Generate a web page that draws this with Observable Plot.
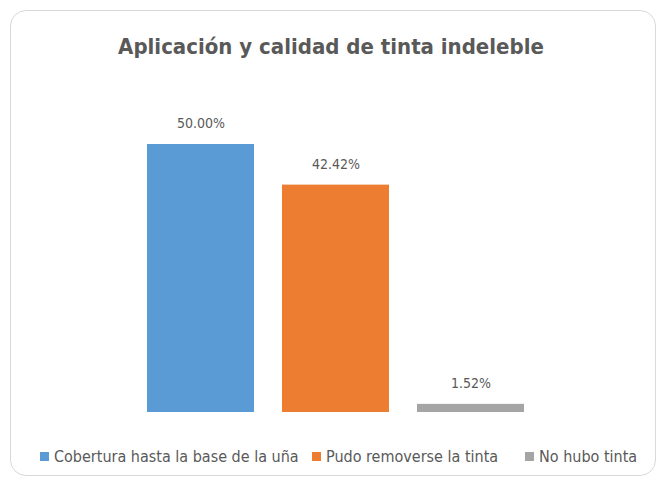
<!DOCTYPE html>
<html>
<head>
<meta charset="utf-8">
<script src="https://cdn.jsdelivr.net/npm/d3@7"></script>
<script src="https://cdn.jsdelivr.net/npm/@observablehq/plot@0.6"></script>
<style>
  body { margin: 0; background: #fff; width: 662px; height: 485px; overflow: hidden; position: relative;
         font-family: "DejaVu Sans Condensed", "Liberation Sans Narrow", sans-serif; }
  #card { position: absolute; left: 10px; top: 10px; width: 646px; height: 466px;
          border: 1px solid #d9d9d9; border-radius: 16px; box-sizing: border-box; }
  #title { position: absolute; left: 0; width: 662px; top: 31px; text-align: center;
           font-size: 22px; font-weight: bold; color: #595959; line-height: 32px; }
  #chart { position: absolute; left: 0; top: 0; }
  #legend { position: absolute; left: 0; width: 662px; top: 447px; font-size: 16px; color: #595959;
            line-height: 20px; white-space: nowrap; }
  .item { position: absolute; top: 0; }
  .sw { display: inline-block; width: 9px; height: 9px; margin-right: 5px; vertical-align: 1px; }
</style>
</head>
<body>
<div id="card"></div>
<div id="title">Aplicación y calidad de tinta indeleble</div>
<div id="chart"></div>
<div id="legend"></div>
<script>
const categories = ["Cobertura hasta la base de la uña", "Pudo removerse la tinta", "No hubo tinta"];
const values = [50.00, 42.42, 1.52];
const labels = ["50.00%", "42.42%", "1.52%"];
const colors = ["#5B9BD5", "#ED7D31", "#A5A5A5"];

const data = categories.map((c, i) => ({cat: c, value: values[i], label: labels[i]}));

const plot = Plot.plot({
  width: 662,
  height: 440,
  marginTop: 144,
  marginBottom: 28,
  marginLeft: 119,
  marginRight: 110,
  x: {domain: categories, padding: 0.207, axis: null},
  y: {domain: [0, 50], axis: null},
  color: {domain: categories, range: colors},
  style: {background: "transparent", fontFamily: "'DejaVu Sans Condensed', 'Liberation Sans Narrow', sans-serif"},
  marks: [
    Plot.barY(data, {x: "cat", y: "value", fill: "cat"}),
    Plot.text(data, {x: "cat", y: "value", text: "label", dy: -21, fontSize: 14, fill: "#595959"})
  ]
});
document.getElementById("chart").appendChild(plot);

const legendX = [40, 312, 525];
const legend = document.getElementById("legend");
categories.forEach((c, i) => {
  const s = document.createElement("span");
  s.className = "item";
  s.style.left = legendX[i] + "px";
  s.innerHTML = `<span class="sw" style="background:${colors[i]}"></span>${c}`;
  legend.appendChild(s);
});
</script>
</body>
</html>
